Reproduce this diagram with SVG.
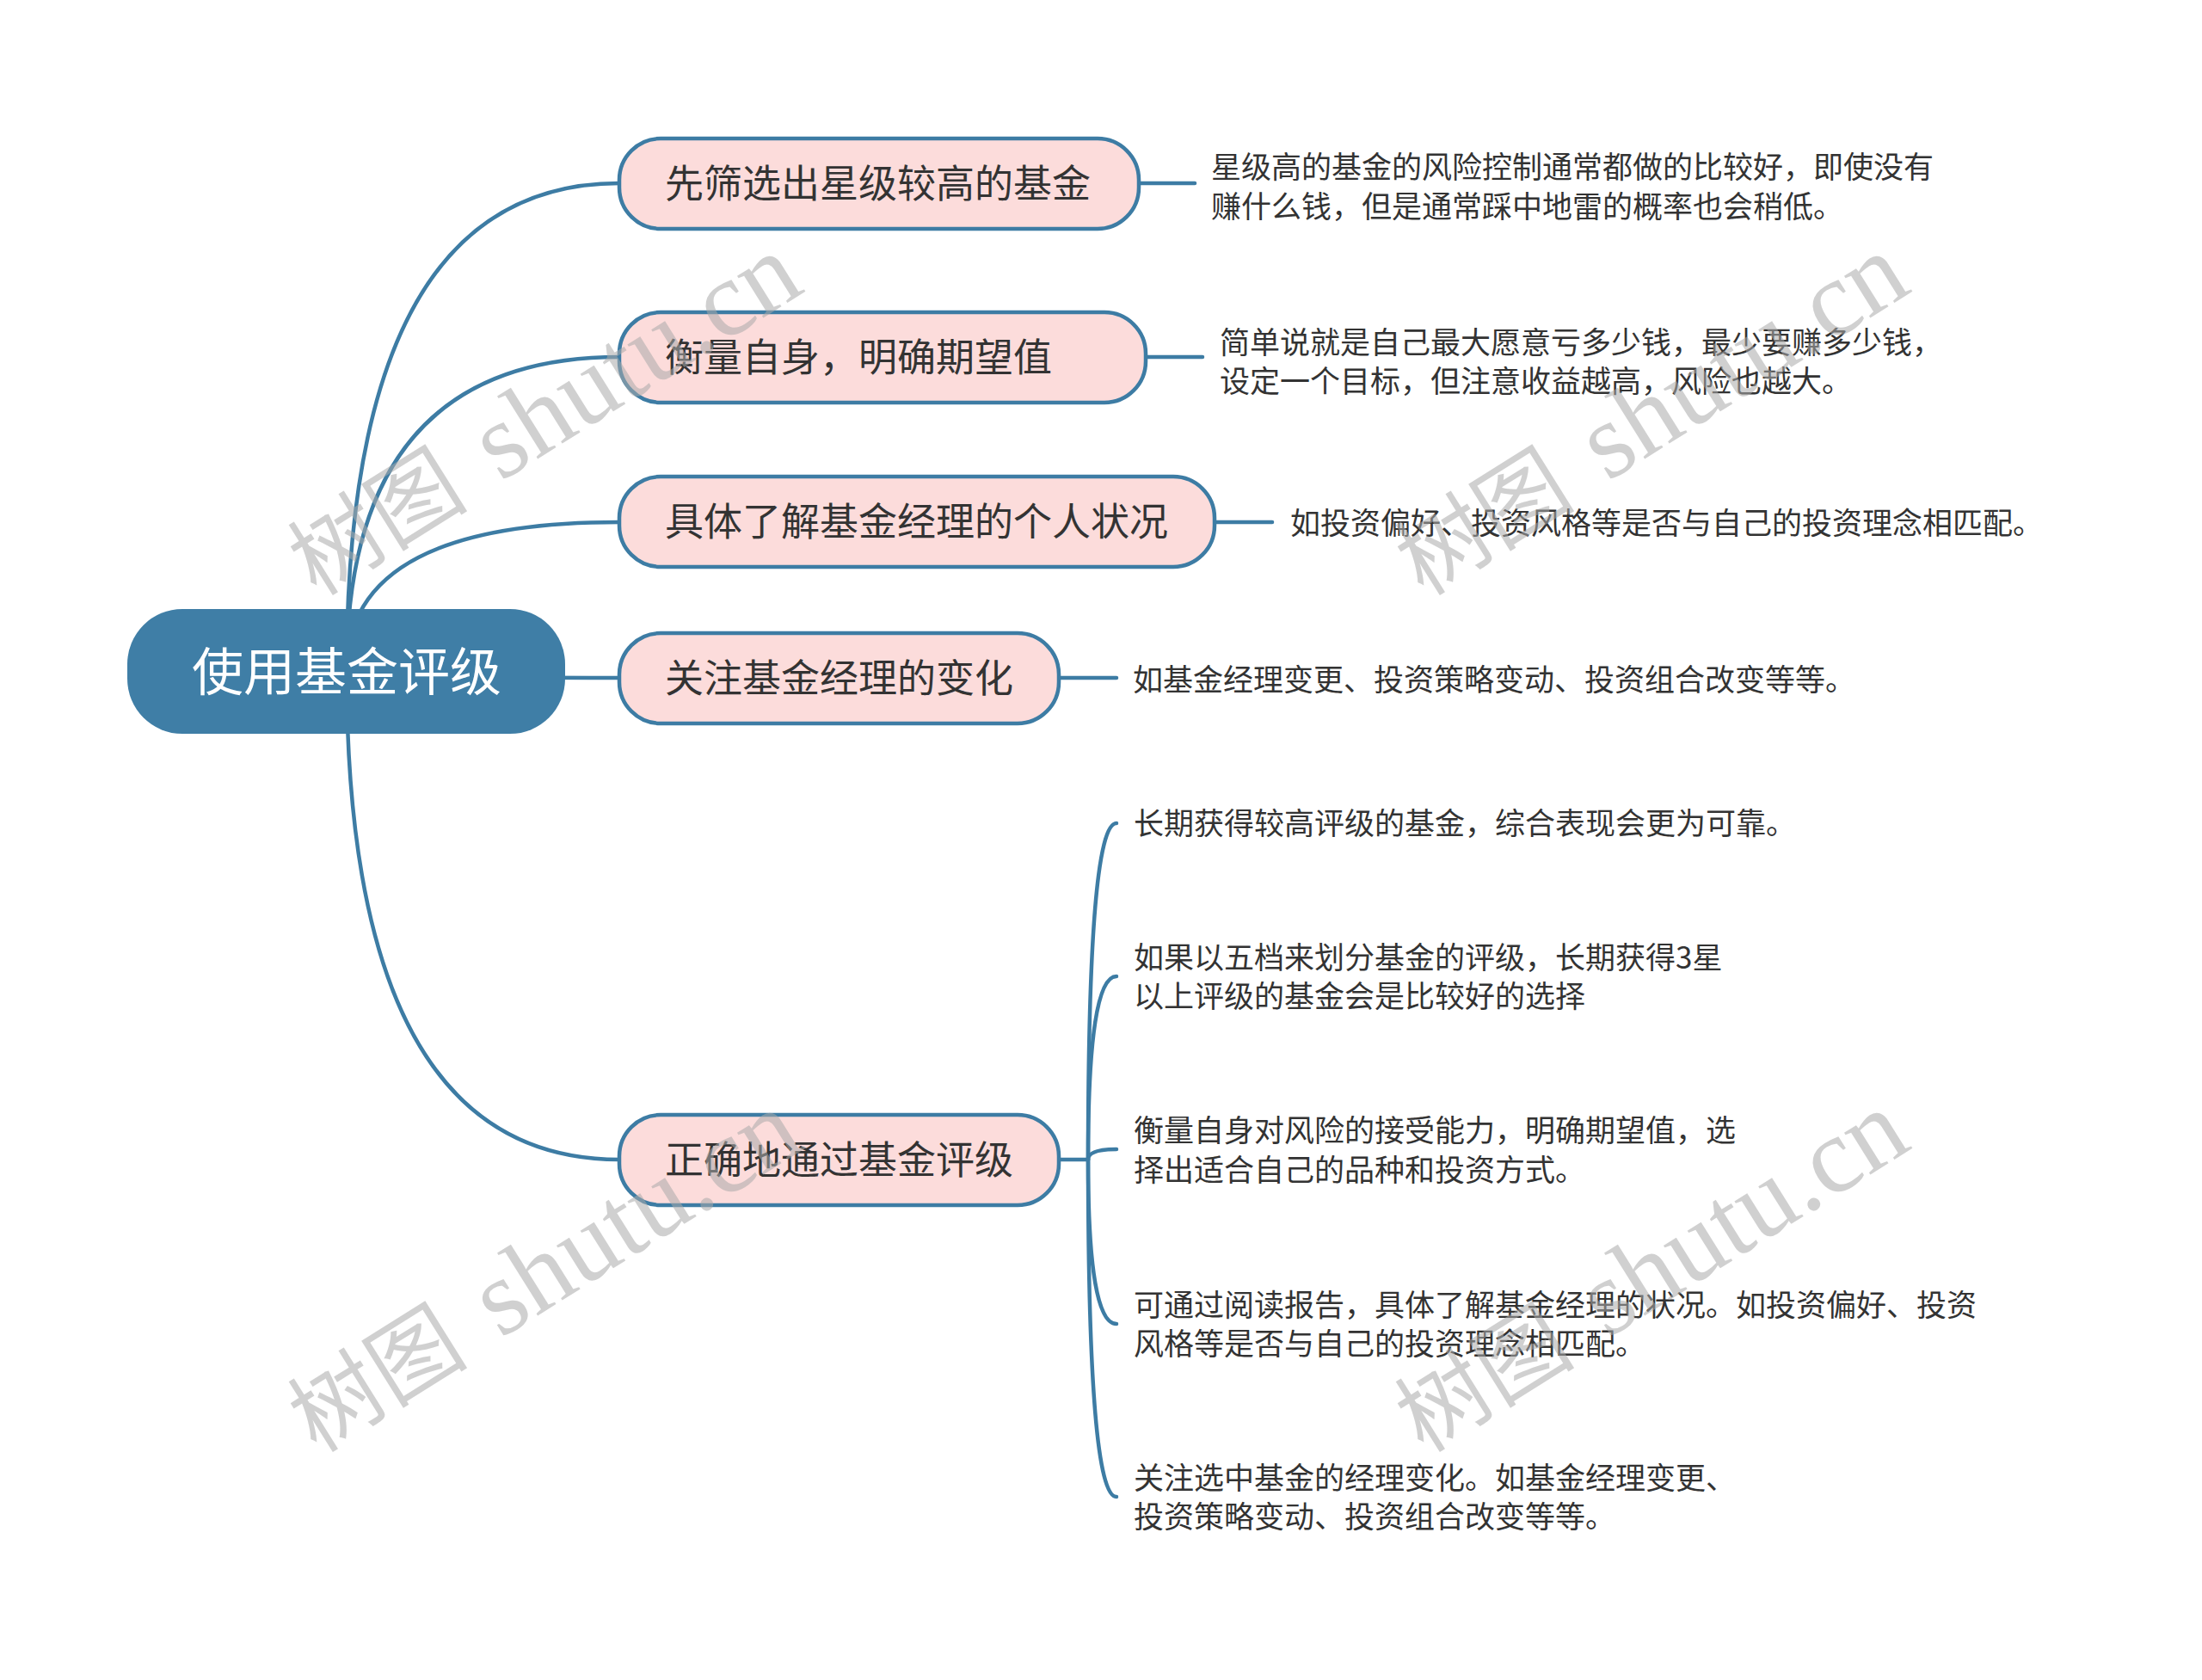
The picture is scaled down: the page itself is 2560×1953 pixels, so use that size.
<svg xmlns="http://www.w3.org/2000/svg" width="2560" height="1953" viewBox="0 0 2560 1953">
<style>
.bg{fill:#ffffff}
.ln{fill:none;stroke:#3d7ca4;stroke-width:4.5;stroke-linecap:round}
.root{fill:#3f7ea6}
.rt{font-family:"Noto Sans CJK SC","Noto Sans",sans-serif;font-size:60px;fill:#ffffff}
.br{fill:#fcdcdb;stroke:#3d7ca4;stroke-width:4.5}
.bt{font-family:"Noto Sans CJK SC","Noto Sans",sans-serif;font-size:45px;fill:#333333}
.lt{font-family:"Noto Sans CJK SC","Noto Sans",sans-serif;font-size:35px;fill:#333333}
.wm{fill:#aaaaaa;fill-opacity:0.55}
.wmc{font-family:"Noto Sans CJK SC",serif;font-size:105px}
.wml{font-family:"Liberation Serif",serif;font-size:125px}
</style>
<rect class="bg" x="0" y="0" width="2560" height="1953"/>
<g id="connectors">
<path class="ln" d="M403 780 Q403 213 720 213"/>
<path class="ln" d="M403 780 Q403 415 720 415"/>
<path class="ln" d="M403 780 Q403 607 720 607"/>
<path class="ln" d="M403 780 Q403 788 720 788"/>
<path class="ln" d="M403 780 Q403 1348 720 1348"/>
<path class="ln" d="M1324 213 L1389 213"/>
<path class="ln" d="M1332 415 L1398 415"/>
<path class="ln" d="M1412 607 L1479 607"/>
<path class="ln" d="M1231 788 L1298 788"/>
<path class="ln" d="M1231 1348 L1265 1348"/>
<path class="ln" d="M1265 1348 Q1265 957 1298 957"/>
<path class="ln" d="M1265 1348 Q1265 1135 1298 1135"/>
<path class="ln" d="M1265 1348 Q1265 1336 1298 1336"/>
<path class="ln" d="M1265 1348 Q1265 1539 1298 1539"/>
<path class="ln" d="M1265 1348 Q1265 1740 1298 1740"/>
</g>
<g id="root">
<rect class="root" x="148" y="708" width="509" height="145" rx="64" ry="64"/>
<text class="rt" x="403" y="803" text-anchor="middle">使用基金评级</text>
</g>
<g id="b1">
<rect class="br" x="720" y="161" width="604" height="105" rx="48" ry="48"/>
<text class="bt" x="773" y="230">先筛选出星级较高的基金</text>
</g>
<g id="b2">
<rect class="br" x="720" y="363" width="612" height="105" rx="48" ry="48"/>
<text class="bt" x="773" y="432">衡量自身，明确期望值</text>
</g>
<g id="b3">
<rect class="br" x="720" y="554" width="692" height="105" rx="48" ry="48"/>
<text class="bt" x="773" y="623">具体了解基金经理的个人状况</text>
</g>
<g id="b4">
<rect class="br" x="720" y="736" width="511" height="105" rx="48" ry="48"/>
<text class="bt" x="773" y="805">关注基金经理的变化</text>
</g>
<g id="b5">
<rect class="br" x="720" y="1296" width="511" height="105" rx="48" ry="48"/>
<text class="bt" x="773" y="1365">正确地通过基金评级</text>
</g>
<g id="l1">
<text class="lt" x="1408" y="207">星级高的基金的风险控制通常都做的比较好，即使没有</text>
<text class="lt" x="1408" y="253">赚什么钱，但是通常踩中地雷的概率也会稍低。</text>
</g>
<g id="l2">
<text class="lt" x="1418" y="411">简单说就是自己最大愿意亏多少钱，最少要赚多少钱，</text>
<text class="lt" x="1418" y="456">设定一个目标，但注意收益越高，风险也越大。</text>
</g>
<g id="l3">
<text class="lt" x="1500" y="621">如投资偏好、投资风格等是否与自己的投资理念相匹配。</text>
</g>
<g id="l4">
<text class="lt" x="1317" y="803">如基金经理变更、投资策略变动、投资组合改变等等。</text>
</g>
<g id="c1">
<text class="lt" x="1318" y="970">长期获得较高评级的基金，综合表现会更为可靠。</text>
</g>
<g id="c2">
<text class="lt" x="1318" y="1126">如果以五档来划分基金的评级，长期获得3星</text>
<text class="lt" x="1318" y="1171">以上评级的基金会是比较好的选择</text>
</g>
<g id="c3">
<text class="lt" x="1318" y="1327">衡量自身对风险的接受能力，明确期望值，选</text>
<text class="lt" x="1318" y="1373">择出适合自己的品种和投资方式。</text>
</g>
<g id="c4">
<text class="lt" x="1318" y="1530">可通过阅读报告，具体了解基金经理的状况。如投资偏好、投资</text>
<text class="lt" x="1318" y="1575">风格等是否与自己的投资理念相匹配。</text>
</g>
<g id="c5">
<text class="lt" x="1318" y="1731">关注选中基金的经理变化。如基金经理变更、</text>
<text class="lt" x="1318" y="1776">投资策略变动、投资组合改变等等。</text>
</g>
<g id="watermarks" class="wm">
<text transform="translate(368,694) rotate(-32)"><tspan class="wmc">树图</tspan><tspan class="wml" x="252">shutu.cn</tspan></text>
<text transform="translate(1655,694) rotate(-32)"><tspan class="wmc">树图</tspan><tspan class="wml" x="252">shutu.cn</tspan></text>
<text transform="translate(368,1690) rotate(-32)"><tspan class="wmc">树图</tspan><tspan class="wml" x="252">shutu.cn</tspan></text>
<text transform="translate(1655,1690) rotate(-32)"><tspan class="wmc">树图</tspan><tspan class="wml" x="252">shutu.cn</tspan></text>
</g>
</svg>
